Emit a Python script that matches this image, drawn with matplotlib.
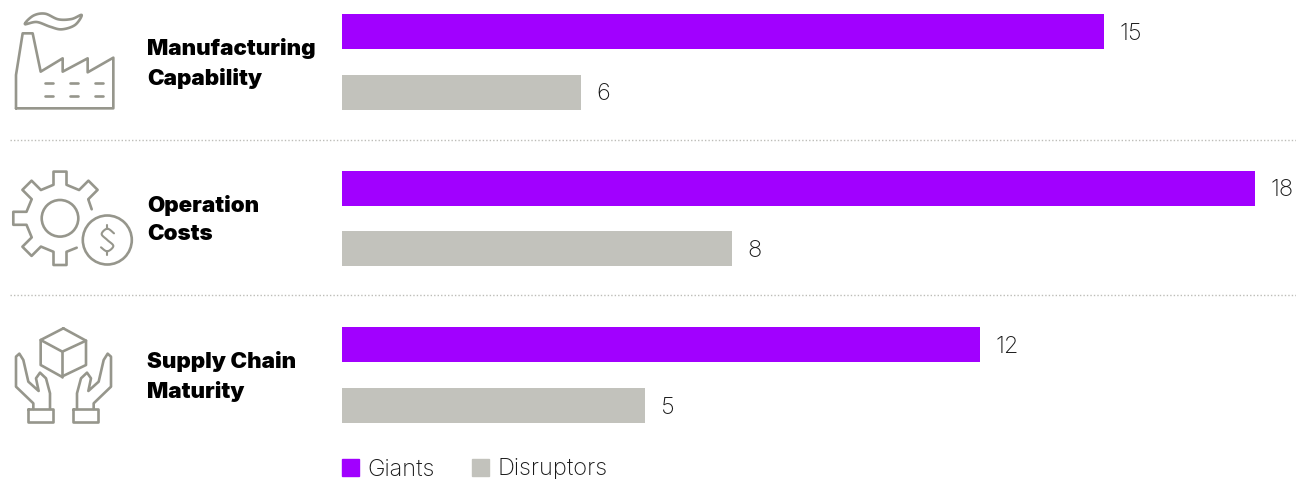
import matplotlib
matplotlib.use("Agg")
import matplotlib.pyplot as plt
import numpy as np
from matplotlib.patches import Patch, Circle

# ---- data ----
categories = ["Manufacturing\nCapability", "Operation\nCosts", "Supply Chain\nMaturity"]
series_names = ["Giants", "Disruptors"]
# Printed labels
giants_labels = [15, 18, 12]
disruptors_labels = [6, 8, 5]
# Drawn bar lengths (the source's bars are not exactly
# proportional to its printed labels), in label units of the longest bar
giants_lengths = [15.04, 18.02, 12.59]
disruptors_lengths = [4.72, 7.70, 5.98]

PURPLE = "#A100FF"
GRAY = "#C2C2BC"
ICON = "#96968C"
TXT = "#1A1A1A"
W, H = 1296, 479
BOLD = dict(family="Inter", weight=900)
LIGHT = dict(family="Inter", weight=200)

fig = plt.figure(figsize=(W / 100, H / 100), dpi=100, facecolor="white")

# overlay in pixel coordinates for icons, separators and category labels
ov = fig.add_axes([0, 0, 1, 1])
ov.set_xlim(0, W)
ov.set_ylim(H, 0)
ov.axis("off")

# bar axes
left_px = 342
unit_px = 50.67
pitch = 156.5
top_px = 31.5
ax = fig.add_axes([left_px / W, 0, (W - left_px) / W, 1])
ax.patch.set_alpha(0)
ax.set_xlim(0, (W - left_px) / unit_px)
ax.set_ylim((H - top_px) / pitch, -top_px / pitch)
ax.axis("off")
groups = np.arange(len(categories))
off = 60.5 / pitch
bh = 35 / pitch
ax.barh(groups, giants_lengths, height=bh, color=PURPLE)
ax.barh(groups + off, disruptors_lengths, height=bh, color=GRAY)
pad = 15.5 / unit_px
for y, l, t in zip(groups, giants_lengths, giants_labels):
    ax.text(l + pad, y, str(t), va="center_baseline", ha="left", fontsize=17, color=TXT, **LIGHT)
for y, l, t in zip(groups + off, disruptors_lengths, disruptors_labels):
    ax.text(l + pad, y, str(t), va="center_baseline", ha="left", fontsize=17, color=TXT, **LIGHT)

fs = 17
leg = ax.legend(
    handles=[Patch(color=PURPLE, label=series_names[0]), Patch(color=GRAY, label=series_names[1])],
    loc="lower left", bbox_to_anchor=(0, -0.003), bbox_transform=ax.transAxes,
    ncol=2, frameon=False, borderpad=0, borderaxespad=0,
    handlelength=12.2 / fs, handleheight=12.2 / fs, handletextpad=0.34, columnspacing=1.61,
    prop=dict(family="Inter", weight=200, size=fs),
)
for t in leg.get_texts():
    t.set_color(TXT)

# category labels
label_y = [(48, 78), (205, 234), (361, 391)]
for cat, ys in zip(categories, label_y):
    for line, y in zip(cat.split("\n"), ys):
        ov.text(147, y, line, va="center", ha="left", fontsize=16.1, color="black", **BOLD)

# separators
for y in (140, 295):
    ov.plot([10, W], [y, y], color="#BDBDB8", lw=1.0, ls=(0, (1, 1.5)))


def poly(pts, closed=False, lw=1.9):
    pts = np.array(pts, float)
    if closed:
        pts = np.vstack([pts, pts[:1]])
    ov.plot(pts[:, 0], pts[:, 1], color=ICON, lw=lw, solid_joinstyle="round", solid_capstyle="round")


def smooth(pts, closed=False, lw=1.9, n=12):
    p = np.array(pts, float)
    if closed:
        q = np.vstack([p[-1], p, p[0], p[1]])
    else:
        q = np.vstack([p[0], p, p[-1]])
    out = []
    for i in range(1, len(q) - 2):
        for t in np.linspace(0, 1, n, endpoint=False):
            a, b, c, d = q[i - 1], q[i], q[i + 1], q[i + 2]
            out.append(0.5 * (2 * b + (c - a) * t + (2 * a - 5 * b + 4 * c - d) * t**2 + (3 * b - a - 3 * c + d) * t**3))
    out.append(q[-2])
    poly(out, lw=lw)


def z(pts, dy=0):
    return [(x / 3, y / 3 + dy) for x, y in pts]


# factory icon
poly(z([(48, 325), (48, 225), (68, 100), (98, 100), (122, 215), (188, 175), (188, 215), (263, 175),
        (263, 217), (340, 173), (340, 325)]), closed=True)
for yy in (83.3, 96):
    for x0 in (45, 70, 95):
        poly([(x0, yy), (x0 + 8, yy)])
smooth(z([(75, 72), (100, 47), (135, 41), (175, 58), (215, 57), (245, 45), (225, 75), (185, 88), (150, 80), (110, 66)]),
       closed=True)

# gear + coin icon
cx, cy = 60, 218.3
c = np.array([cx, cy])
outline = [(91.7, 209.3), (88.5, 200)]
for ang in [45, 90, 135, 180, 225, 270]:
    a = np.deg2rad(ang)
    u = np.array([np.cos(a), -np.sin(a)])
    t = np.array([-np.sin(a), -np.cos(a)])
    outline += [tuple(c + u * 33.5 - t * 6.5), tuple(c + u * 46.7 - t * 6.5),
                tuple(c + u * 46.7 + t * 6.5), tuple(c + u * 33.5 + t * 6.5)]
outline.append((76.7, 247.7))
poly(outline)
ov.add_patch(Circle((cx, cy), 18.3, fill=False, ec=ICON, lw=1.9))
ov.add_patch(Circle((107.3, 240), 24.5, fill=False, ec=ICON, lw=1.9))
smooth(z([(342, 250), (322, 236), (305, 252), (322, 270), (340, 288), (322, 304), (303, 292)], 150), lw=1.5)
poly(z([(322, 225), (322, 236)], 150), lw=1.5)
poly(z([(322, 304), (322, 315)], 150), lw=1.5)

# hands + box icon
poly(z([(190, 55), (258, 92), (258, 165), (185, 200), (122, 165), (122, 90)], 310), closed=True)
poly(z([(122, 90), (187, 125), (258, 92)], 310))
poly(z([(187, 125), (187, 200)], 310))
hand = [(100, 297), (100, 280), (48, 230), (48, 140), (58, 131), (70, 150), (85, 215), (116, 243), (108, 205),
        (120, 188), (138, 205), (150, 250), (150, 297)]
for mirror in (False, True):
    hh = [((381 - x) if mirror else x, y) for x, y in hand]
    poly(z(hh, 310))
poly(z([(85, 297), (160, 297), (160, 335), (85, 335)], 310), closed=True)
poly(z([(220, 297), (295, 297), (295, 335), (220, 335)], 310), closed=True)

fig.savefig("out.png", dpi=100, facecolor="white")
